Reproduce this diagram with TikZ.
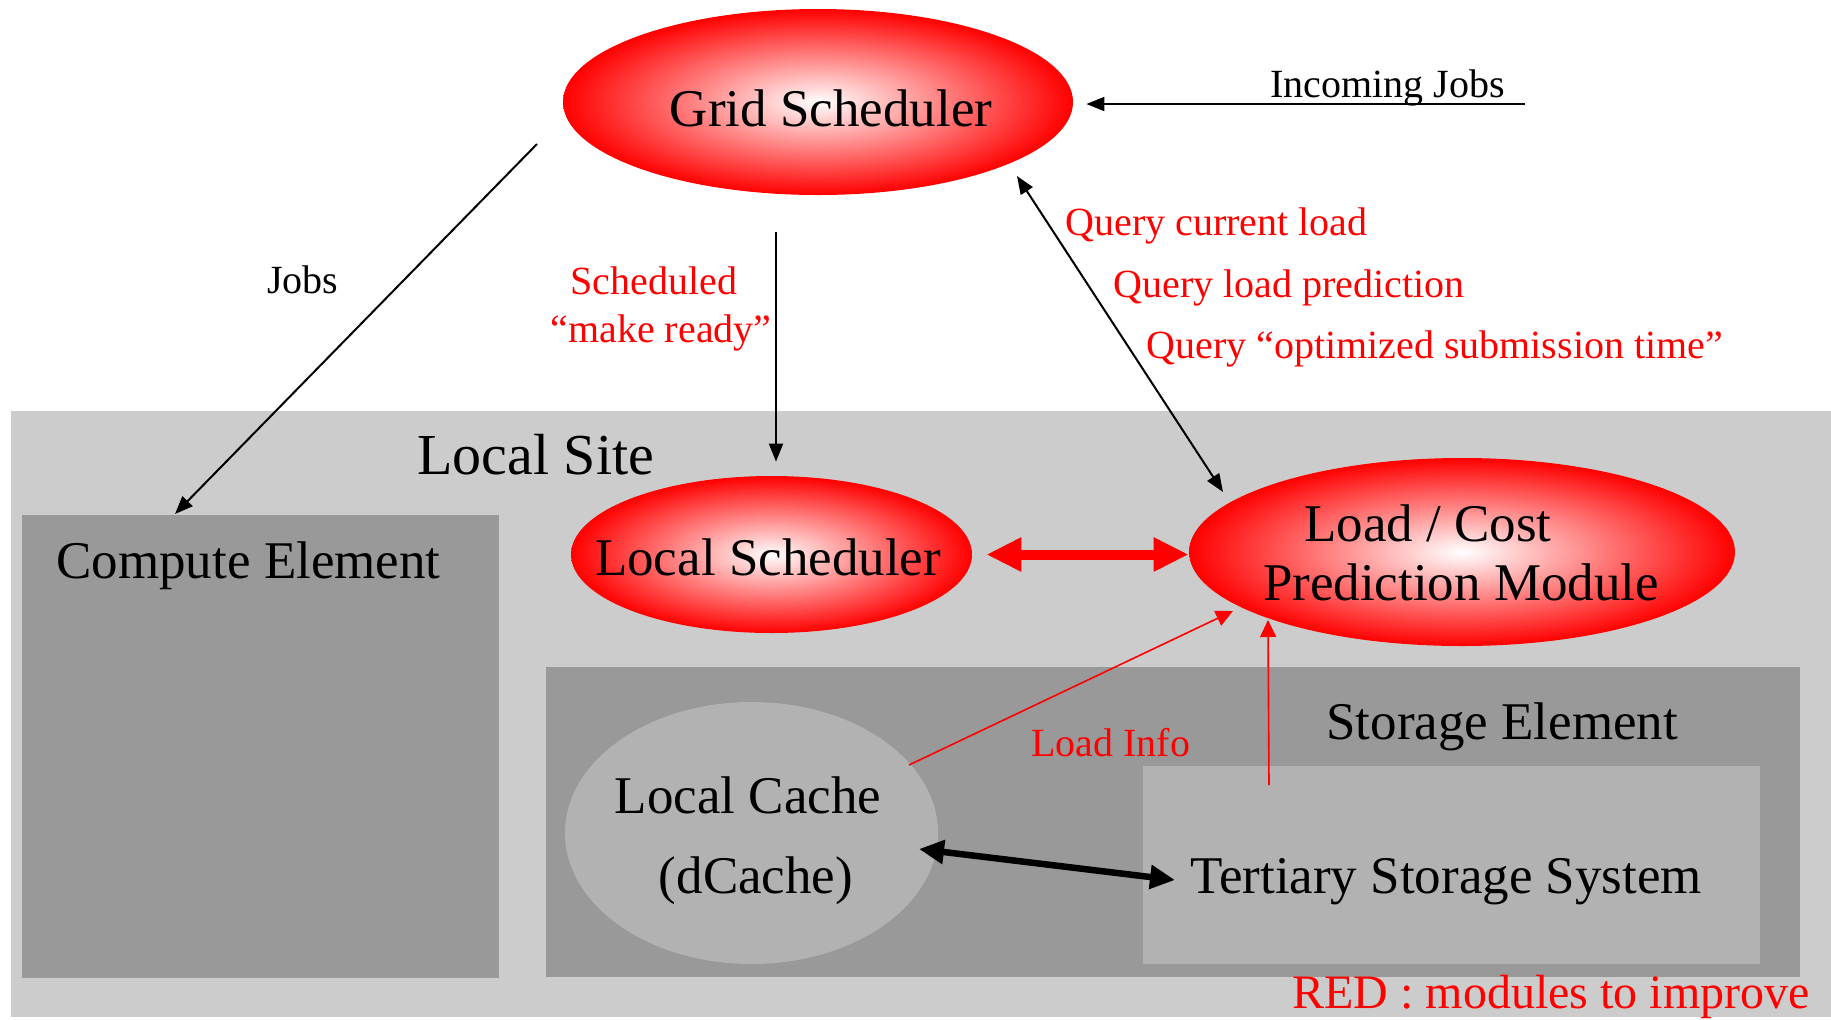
\documentclass[tikz,border=0pt]{standalone}
\usepackage{fontspec}
\setmainfont{Liberation Serif}
\usetikzlibrary{shapes.geometric,arrows.meta}
\definecolor{siteGray}{HTML}{CCCCCC}
\definecolor{elemGray}{HTML}{999999}
\definecolor{innerGray}{HTML}{B2B2B2}
\definecolor{hotRed}{HTML}{FF0000}

\begin{document}
\begin{tikzpicture}[x=0.5pt,y=-0.5pt,
  lbl/.style={inner sep=0pt, anchor=base},
  big/.style={font=\fontsize{26.5pt}{32pt}\selectfont},
  mid/.style={font=\fontsize{20pt}{24pt}\selectfont},
  area/.style={rectangle, draw=none, inner sep=0pt, anchor=north west},
  module/.style={ellipse, draw=none, inner sep=0pt, shade, inner color=white, outer color=hotRed},
  msg/.style={line width=1pt, -{Triangle[length=9pt,width=7pt]}},
  msgboth/.style={line width=1pt, {Triangle[length=9pt,width=7pt]}-{Triangle[length=9pt,width=7pt]}},
  infoarrow/.style={hotRed, line width=0.8pt, -{Triangle[length=8.5pt,width=8pt]}},
  bigRed/.style={hotRed, line width=5pt, {Triangle[length=17.5pt,width=16pt]}-{Triangle[length=17.5pt,width=16pt]}},
  bigBlack/.style={black, line width=3.25pt, {Triangle[length=12.5pt,width=11.5pt]}-{Triangle[length=12.5pt,width=11.5pt]}}
]
% canvas
\useasboundingbox (0,0) rectangle (1831,1019);
\fill[white] (0,0) rectangle (1831,1019);

% site and its elements
\node[area, fill=siteGray, minimum width=910pt, minimum height=303pt] (site) at (11,411) {};
\node[area, fill=elemGray, minimum width=238.5pt, minimum height=231.5pt] (ce) at (22,515) {};
\node[area, fill=elemGray, minimum width=627pt, minimum height=155pt] (se) at (546,667) {};
\node[area, fill=innerGray, minimum width=308.5pt, minimum height=99pt] (tss) at (1143,766) {};
\node[ellipse, fill=innerGray, draw=none, inner sep=0pt, minimum width=186.5pt, minimum height=131pt] (cache) at (751.5,833) {};

% scheduler and prediction modules
\node[module, minimum width=255pt, minimum height=93pt] (grid) at (818,102) {};
\node[module, minimum width=200.5pt, minimum height=78.5pt] (locsched) at (771.5,554.5) {};
\node[module, minimum width=273pt, minimum height=94pt] (load) at (1462,552) {};

% connector end points
\coordinate (jobsSrc) at (537,144);
\coordinate (jobsDst) at (175,514);
\coordinate (incomingSrc) at (1525,104);
\coordinate (schedSrc) at (776,232);
\coordinate (queryTop) at (1017,176);
\coordinate (queryBot) at (1223,492);
\coordinate (infoSrc) at (909,765);
\coordinate (infoDst) at (1233,611);
\coordinate (tapeSrc) at (1269,785);
\coordinate (tapeDst) at (1268,620);
\coordinate (cacheEnd) at (919,849);
\coordinate (tssEnd) at (1175,880);

% connectors
\draw[msg] (jobsSrc) -- (jobsDst);
\draw[msg, shorten >=6.5pt] (incomingSrc) -- (incomingSrc -| grid.east);
\draw[msg, shorten >=7pt] (schedSrc) -- (schedSrc |- locsched.north);
\draw[msgboth] (queryTop) -- (queryBot);
\draw[bigRed, shorten <=7pt] (locsched.east) -- (locsched.east -| load.west);
\draw[infoarrow] (infoSrc) -- (infoDst);
\draw[infoarrow] (tapeSrc) -- (tapeDst);
\draw[bigBlack] (cacheEnd) -- (tssEnd);

% labels
\node[lbl, big] (gridTxt) at (831,126) {Grid Scheduler};
\node[lbl, mid, anchor=base west] (incomingTxt) at (1270,97) {Incoming Jobs};
\node[lbl, mid, anchor=base west] (jobsTxt) at (267,293) {Jobs};
\node[lbl, mid, text=hotRed] (schedTxtA) at (654,294) {Scheduled};
\node[lbl, mid, text=hotRed] (schedTxtB) at (661,342) {“make ready”};
\node[lbl, mid, text=hotRed, anchor=base west] (q1) at (1065,235) {Query current load};
\node[lbl, mid, text=hotRed, anchor=base west] (q2) at (1113,297) {Query load prediction};
\node[lbl, mid, text=hotRed, anchor=base west] (q3) at (1146,358) {Query “optimized submission time”};
\node[lbl, font=\fontsize{29pt}{34pt}\selectfont, anchor=base west] (siteTxt) at (417,474) {Local Site};
\node[lbl, big, anchor=base west] (ceTxt) at (56,578) {Compute Element};
\node[lbl, big] (locTxt) at (768,575) {Local Scheduler};
\node[lbl, big] (loadTxtA) at (1428,541) {Load / Cost};
\node[lbl, big] (loadTxtB) at (1461,600) {Prediction Module};
\node[lbl, big, anchor=base west] (seTxt) at (1326,739) {Storage Element};
\node[lbl, big] (cacheTxtA) at (748,813) {Local Cache};
\node[lbl, big] (cacheTxtB) at (756,893) {(dCache)};
\node[lbl, big, anchor=base west] (tssTxt) at (1190,893) {Tertiary Storage System};
\node[lbl, mid, text=hotRed, anchor=base west] (infoTxt) at (1031,756) {Load Info};
\node[lbl, font=\fontsize{24pt}{29pt}\selectfont, text=hotRed, anchor=base east] (noteTxt) at (1810,1008) {RED : modules to improve};
\end{tikzpicture}
\end{document}
